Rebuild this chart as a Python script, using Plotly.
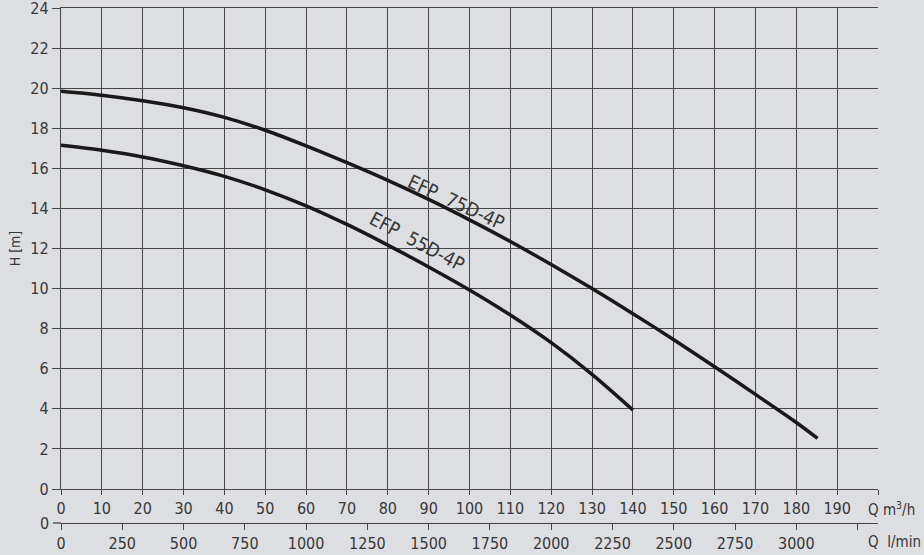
import plotly.graph_objects as go

# Data
q_75 = [0, 10, 20, 30, 40, 50, 60, 70, 80, 90, 100, 110, 120, 130, 140, 150, 160, 170, 180, 185.2]
h_75 = [19.85, 19.65, 19.37, 19.02, 18.54, 17.9, 17.12, 16.28, 15.4, 14.45, 13.43, 12.35, 11.2, 10.0, 8.75, 7.45, 6.1, 4.72, 3.32, 2.53]

q_55 = [0, 10, 20, 30, 40, 50, 60, 70, 80, 90, 100, 110, 120, 130, 140]
h_55 = [17.15, 16.9, 16.57, 16.13, 15.6, 14.93, 14.13, 13.2, 12.17, 11.08, 9.93, 8.68, 7.3, 5.72, 3.94]

labels = ["EFP 75D-4P", "EFP 55D-4P"]
label_pos_q = [96.8, 87.1]
label_pos_h = [14.3, 12.35]
label_angle = [25, 28]

m3h_ticks = list(range(0, 201, 10))
m3h_text = [str(v) if v <= 190 else "" for v in m3h_ticks]
lmin_ticks = list(range(0, 3251, 250))
lmin_text = [str(v) if v <= 3000 else "" for v in lmin_ticks]
h_ticks = list(range(0, 25, 2))

FONT = "Liberation Sans Narrow, DejaVu Sans Condensed, Arial Narrow, sans-serif"
BG = "rgb(221,222,226)"
GRID = "rgb(70,70,70)"
TXT = "rgb(55,55,55)"

fig = go.Figure()
fig.add_trace(go.Scatter(x=q_75, y=h_75, mode="lines", line=dict(color="rgb(25,25,25)", width=3.5, shape="spline", smoothing=0.8), showlegend=False))
fig.add_trace(go.Scatter(x=q_55, y=h_55, mode="lines", line=dict(color="rgb(25,25,25)", width=3.5, shape="spline", smoothing=0.8), showlegend=False))
# invisible trace to activate xaxis2
fig.add_trace(go.Scatter(x=[0, 3333.33], y=[None, None], xaxis="x2", mode="lines", showlegend=False, hoverinfo="skip"))

for t, xq, yh, a in zip(labels, label_pos_q, label_pos_h, label_angle):
    fig.add_annotation(x=xq, y=yh, text=t.replace(" ", "&nbsp;&nbsp;"), showarrow=False, textangle=a,
                       font=dict(family=FONT, size=19, color=TXT))

fig.add_annotation(xref="paper", yref="paper", x=1, y=0.066, xanchor="left", yanchor="top", xshift=-12, yshift=-8,
                   text="Q m<sup>3</sup>/h", showarrow=False, font=dict(family=FONT, size=15, color=TXT))
fig.add_annotation(xref="paper", yref="paper", x=1, y=0, xanchor="left", yanchor="top", xshift=-12, yshift=-8,
                   text="Q  l/min", showarrow=False, font=dict(family=FONT, size=15, color=TXT))
fig.add_annotation(xref="paper", yref="paper", x=0, y=0, xanchor="right", yanchor="middle", xshift=-10,
                   text="0", showarrow=False, font=dict(family=FONT, size=16, color=TXT))
fig.add_shape(type="line", xref="paper", yref="paper", xsizemode="pixel", xanchor=0, x0=-8, x1=0, y0=0, y1=0,
              line=dict(color=GRID, width=1.3))

fig.update_layout(
    width=924, height=555,
    margin=dict(l=61, r=46, t=8, b=32, autoexpand=False),
    paper_bgcolor=BG, plot_bgcolor=BG,
    font=dict(family=FONT, size=16, color=TXT),
    xaxis=dict(range=[0, 200], tickvals=m3h_ticks, ticktext=m3h_text, showgrid=True, gridcolor=GRID, gridwidth=1.3,
               zeroline=False, showline=True, mirror=True, linecolor=GRID, linewidth=1.3, ticks="outside", ticklen=5,
               tickcolor=GRID, tickwidth=1.3, anchor="y", tickfont=dict(size=16), automargin=False),
    xaxis2=dict(range=[0, 200 * 1000 / 60], tickvals=lmin_ticks, ticktext=lmin_text, overlaying="x",
                anchor="free", position=0, side="bottom", showgrid=False, zeroline=False, showline=True,
                linecolor=GRID, linewidth=1.3, ticks="outside", ticklen=6, tickcolor=GRID, tickwidth=1.3,
                tickfont=dict(size=16), automargin=False, ticklabeloverflow="allow"),
    yaxis=dict(range=[0, 24], domain=[0.066, 1], tickvals=h_ticks, showgrid=True, gridcolor=GRID, gridwidth=1.3,
               zeroline=False, showline=True, linecolor=GRID, linewidth=1.3, ticks="outside", ticklen=8,
               tickcolor=GRID, tickwidth=1.3, title=dict(text="H [m]", font=dict(size=14), standoff=6),
               tickfont=dict(size=16), ticklabeloverflow="allow", automargin=False),
)

fig.write_html("out.html", post_script="document.body.style.margin='0px';", config={"displayModeBar": False})
